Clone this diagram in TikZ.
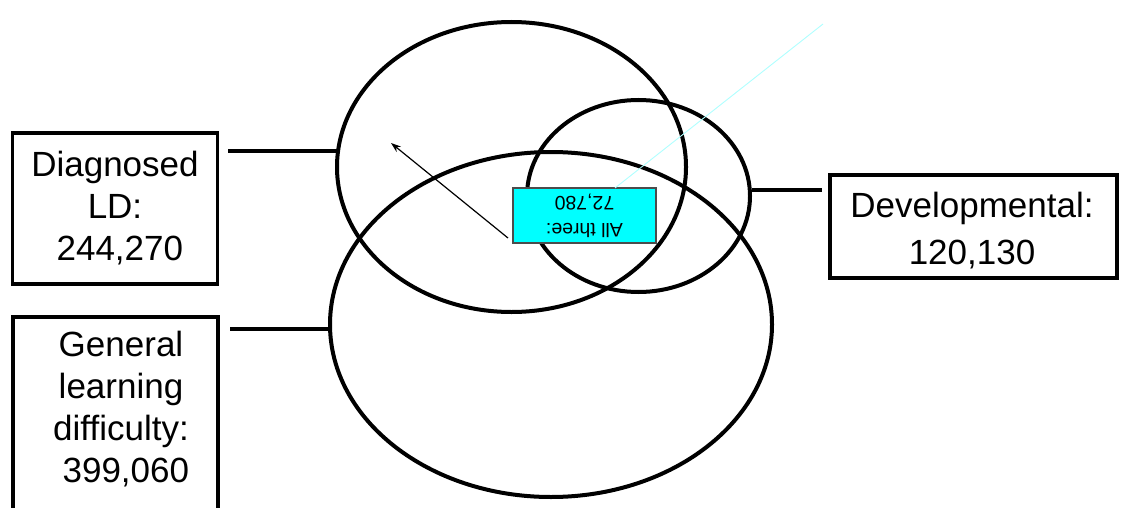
\documentclass[tikz,border=0pt]{standalone}
\usepackage{fontspec}
\setmainfont{Liberation Sans}
\usetikzlibrary{shapes.geometric,arrows.meta}
\definecolor{aqua}{RGB}{0,255,255}
\definecolor{paleaqua}{RGB}{175,255,255}
\begin{document}
\begin{tikzpicture}[x=1pt,y=-1pt,
  ring/.style={draw=black,line width=4pt,ellipse,inner sep=0pt},
  labelbox/.style={draw=black,line width=3.5pt,fill=white,inner sep=0pt},
  labeltext/.style={align=center,inner sep=0pt,font=\fontsize{35}{42}\selectfont},
  leader/.style={line width=3.5pt},
  centerbox/.style={draw=black!70,line width=1.2pt,fill=aqua,align=center,inner sep=0pt,
    font=\fontsize{19.5}{27}\selectfont}]
\useasboundingbox (0,0) rectangle (1123,508);
\clip (0,0) rectangle (1123,508);
% ellipses
\node[ring,minimum width=349pt,minimum height=290pt] (ld) at (511.5,167) {};
\node[ring,minimum width=223pt,minimum height=192pt] (dev) at (638.5,196) {};
\node[ring,minimum width=442pt,minimum height=345pt] (gen) at (551,324.5) {};
% label boxes
\node[labelbox,minimum width=205pt,minimum height=151pt] (bld) at (115,208.5) {};
\node[labeltext] (tld) at (115,208) {Diagnosed\\LD:\\\ 244,270};
\node[labelbox,minimum width=205pt,minimum height=220pt] (bgen) at (115.5,427) {};
\node[labeltext,anchor=north] (tgen) at (121,331) {General\\learning\\difficulty:\\\ 399,060};
\node[labelbox,minimum width=287pt,minimum height=103pt] (bdev) at (973.5,226.5) {};
\node[labeltext] (tdev) at (972,231) {Developmental:\\[5pt]120,130};
% leader lines
\coordinate (lda) at (228,151);
\coordinate (ldb) at (337.5,151);
\coordinate (gena) at (230,329);
\coordinate (genb) at (330,329);
\coordinate (deva) at (752,190);
\coordinate (devb) at (822,190);
\draw[leader] (lda) -- (ldb);
\draw[leader] (gena) -- (genb);
\draw[leader] (deva) -- (devb);
% central box
\node[centerbox,minimum width=143pt,minimum height=55pt,rotate=180] (all) at (584.5,215.5)
  {All three:\\72,780};
\coordinate (cyanstart) at (615,188);
\coordinate (cyanend) at (823,24);
\draw[paleaqua,line width=0.9pt] (cyanstart) -- (cyanend);
\coordinate (arrtail) at (508,238);
\coordinate (arrtip) at (391,143);
\draw[line width=1.2pt,-{Stealth[length=10pt,width=7pt]}] (arrtail) -- (arrtip);
\end{tikzpicture}
\end{document}
